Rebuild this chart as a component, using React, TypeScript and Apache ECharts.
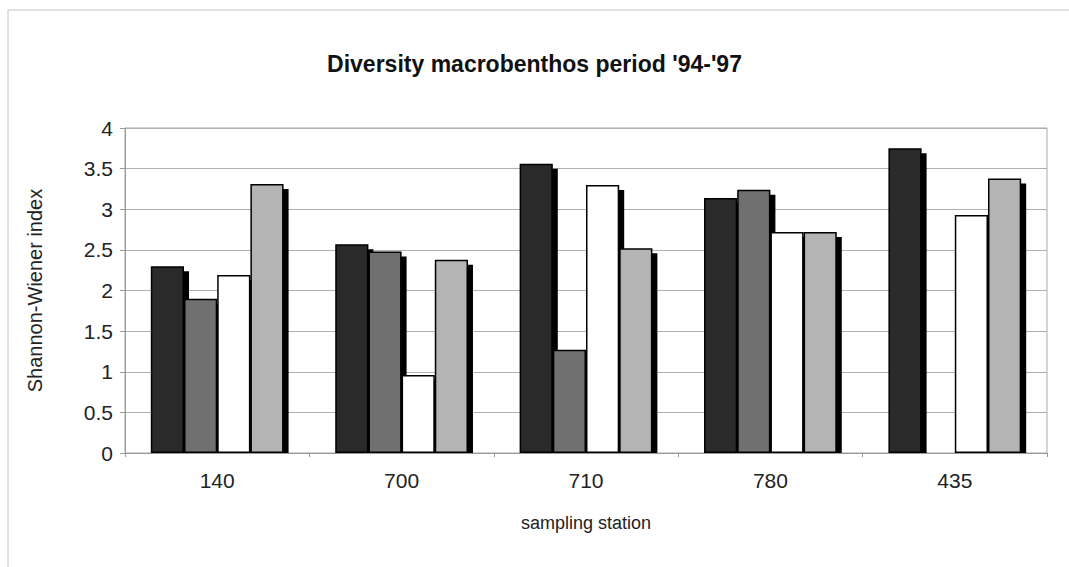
import React, { useEffect, useRef } from "react";
import * as echarts from "echarts";

const categories = ["140", "700", "710", "780", "435"];
const series1 = [2.3, 2.57, 3.56, 3.14, 3.75];
const series2: (number | null)[] = [1.9, 2.48, 1.27, 3.24, null];
const series3 = [2.19, 0.96, 3.3, 2.72, 2.93];
const series4 = [3.31, 2.38, 2.52, 2.72, 3.38];
const seriesColors = ["#2a2a2a", "#707070", "#ffffff", "#b4b4b4"];
const yTicks = { min: 0, max: 4, interval: 0.5 };

const GAP = 0.28;
const FONT = "'Liberation Sans', Arial, sans-serif";

export default function App() {
  const ref = useRef<HTMLDivElement>(null);
  useEffect(() => {
    if (!ref.current) return;
    const chart = echarts.init(ref.current, undefined, { renderer: "svg" });
    const all = [series1, series2, series3, series4];
    const shadowData: number[][] = [];
    all.forEach((arr, si) =>
      arr.forEach((v, ci) => {
        if (v != null) shadowData.push([ci, si, v]);
      })
    );
    const option: any = {
      animation: false,
      backgroundColor: "#fff",
      title: {
        text: "Diversity macrobenthos period '94-'97",
        left: "center",
        top: 47,
        textStyle: { fontFamily: FONT, fontSize: 23, fontWeight: "bold", color: "#111" },
      },
      graphic: [
        {
          type: "rect",
          shape: { x: 8, y: 10, width: 1200, height: 700 },
          style: { fill: "none", stroke: "#c4c4c4", lineWidth: 1 },
          silent: true,
        },
      ],
      grid: { left: 125, right: 22, top: 128, bottom: 114, show: true, borderColor: "#a8a8a8", borderWidth: 1 },
      xAxis: {
        type: "category",
        data: categories,
        name: "sampling station",
        nameLocation: "middle",
        nameGap: 61,
        nameTextStyle: { fontFamily: FONT, fontSize: 18, color: "#222" },
        axisLine: { lineStyle: { color: "#999" } },
        axisTick: { show: true, length: 4, lineStyle: { color: "#999" } },
        axisLabel: { fontFamily: FONT, fontSize: 21, color: "#222", margin: 17 },
      },
      yAxis: {
        type: "value",
        min: yTicks.min,
        max: yTicks.max,
        interval: yTicks.interval,
        name: "Shannon-Wiener index",
        nameLocation: "middle",
        nameGap: 80,
        nameTextStyle: { fontFamily: FONT, fontSize: 20, color: "#222" },
        axisLine: { show: true, lineStyle: { color: "#999" } },
        axisTick: { show: true, length: 5, lineStyle: { color: "#999" } },
        axisLabel: { fontFamily: FONT, fontSize: 21, color: "#222", margin: 12 },
        splitLine: { lineStyle: { color: "#b0b0b0" } },
      },
      series: [
        {
          type: "custom",
          z: 1,
          silent: true,
          data: shadowData,
          encode: { x: 0, y: 2 },
          renderItem: (params: any, api: any) => {
            const ci = api.value(0);
            const si = api.value(1);
            const v = api.value(2);
            const base = api.coord([ci, 0]);
            const top = api.coord([ci, v]);
            const band = api.size([1, 0])[0];
            const bw = (band * (1 - GAP)) / 4;
            const x0 = base[0] - (band * (1 - GAP)) / 2 + si * bw;
            return {
              type: "rect",
              shape: { x: x0 + 5, y: top[1] + 5, width: bw, height: Math.max(0, base[1] - top[1] - 5) },
              style: { fill: "#000" },
            };
          },
        },
        ...all.map((arr, i) => ({
          type: "bar",
          z: 2,
          data: arr.map((v) => (v == null ? "-" : v)),
          barGap: "0%",
          barCategoryGap: GAP * 100 + "%",
          itemStyle: { color: seriesColors[i], borderColor: "#000", borderWidth: 1.5 },
        })),
      ],
    };
    chart.setOption(option);
    return () => chart.dispose();
  }, []);
  return <div ref={ref} style={{ position: "absolute", left: 0, top: 0, width: 1069, height: 567 }} />;
}
